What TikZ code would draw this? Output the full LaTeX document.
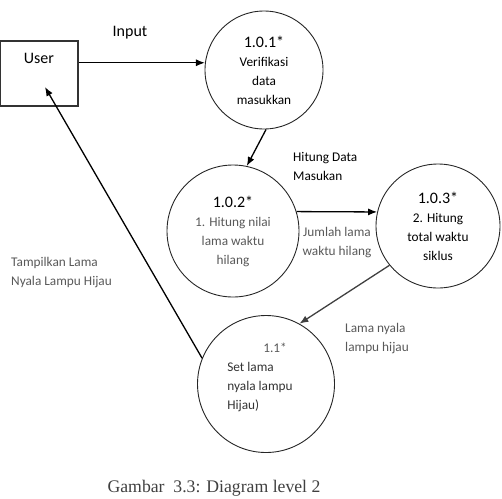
\documentclass[tikz,border=0pt]{standalone}
\usepackage{fontspec}
\setmainfont{Carlito}
\newfontfamily\capfont{Liberation Serif}
\usetikzlibrary{arrows.meta, positioning}

\begin{document}
\begin{tikzpicture}[x=1pt, y=-1pt,
  every node/.style={font=\fontsize{13.3}{19}\selectfont, inner sep=0pt},
  entity/.style={rectangle, draw=black!80, line width=1.3pt, minimum width=78pt,
    font=\fontsize{16}{19}\selectfont, text height=16pt, text depth=37pt, inner ysep=6pt},
  process/.style={circle, draw=black!85, line width=0.9pt, align=center},
  flow/.style={-{Latex[length=9pt,width=7pt]}, line width=1.3pt},
  label/.style={align=left},
  dim/.style={align=left, text=black!65}
]
\useasboundingbox (0,0) rectangle (502,498);

% Nodes
\node[entity] (user) at (39,73.5) {User};

\node[process, minimum size=118pt] (p1) at (264,70) {
  {\fontsize{16}{19}\selectfont 1.0.1*}\\
  Verifikasi\\
  data\\
  masukkan
};

\node[process, minimum size=132pt] (p2) at (233,231) {
  {\fontsize{16}{19}\selectfont 1.0.2*}\\
  \textcolor{black!65}{1. Hitung nilai}\\
  \textcolor{black!65}{lama waktu}\\
  \textcolor{black!65}{hilang}
};

\node[process, minimum size=124pt] (p3) at (438,226) {
  {\fontsize{16}{19}\selectfont 1.0.3*}\\
  2. Hitung\\
  total waktu\\
  siklus
};

\node[process, minimum size=137pt] (p4) at (266,384) {};
\node[align=left, text=black!80] (p4text) at (260,377) {
  \hspace*{36pt}\textcolor{black!65}{1.1*}\\
  Set lama\\
  nyala lampu\\
  Hijau)
};

% Flow labels
\node[label, font=\fontsize{16}{19}\selectfont] (input) at (130,33) {Input};
\node[label, anchor=west] (hitung) at (293,166) {Hitung Data\\Masukan};
\node[dim, align=center] (jumlah) at (337,243) {Jumlah lama\\waktu hilang};
\node[dim, anchor=west] (lama) at (345,339) {Lama nyala\\lampu hijau};
\node[dim, anchor=west] (tampil) at (11,273) {Tampilkan Lama\\Nyala Lampu Hijau};

% Arrows
\coordinate (userin) at (45,87);
\draw[flow] (user.east |- p1.173) -- (p1.173);
\draw[flow] (p1.-88) -- (p2.78);
\draw[flow] (p2.17) -- (p3.167);
\draw[flow, black!75] (p3.219) -- (p4.61);
\draw[flow] (p4.158) -- (userin);

% Caption
\node[font=\capfont\fontsize{17.7}{20}\selectfont, text=black!75] (caption) at (214,488)
  {Gambar~ 3.3: Diagram level 2};

\end{tikzpicture}
\end{document}
